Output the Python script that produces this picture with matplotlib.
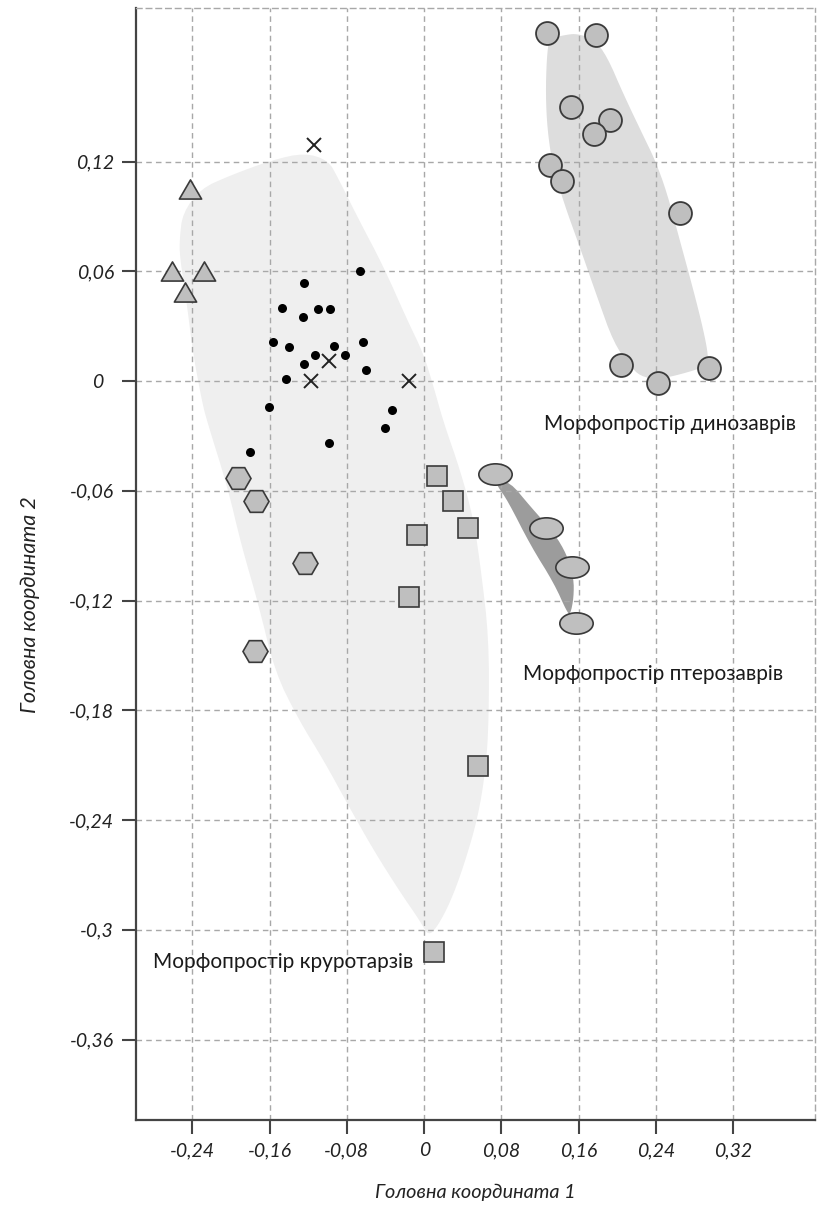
import numpy as np
import matplotlib
matplotlib.use("Agg")
import matplotlib.pyplot as plt
from matplotlib.path import Path

plt.rcParams['font.family'] = ['Lato', 'DejaVu Sans']

# ---------------- data ----------------
x_ticks = [-0.24, -0.16, -0.08, 0.0, 0.08, 0.16, 0.24, 0.32]
x_tick_labels = ["-0,24", "-0,16", "-0,08", "0", "0,08", "0,16", "0,24", "0,32"]
y_ticks = [0.12, 0.06, 0.0, -0.06, -0.12, -0.18, -0.24, -0.30, -0.36]
y_tick_labels = ["0,12", "0,06", "0  ", "-0,06", "-0,12", "-0,18", "-0,24", "-0,3", "-0,36"]

# small black dots
dots_x = [-0.0664, -0.1243, -0.1467, -0.1257, -0.110, -0.0974, -0.156, -0.140, -0.0929, -0.0631,
          -0.0814, -0.1134, -0.1243, -0.0604, -0.1427, -0.161, -0.0331, -0.040, -0.098, -0.1798]
dots_y = [0.060, 0.0537, 0.0398, 0.0349, 0.0396, 0.0396, 0.0212, 0.0188, 0.019, 0.0213,
          0.0144, 0.0144, 0.0095, 0.0058, 0.0014, -0.0143, -0.0156, -0.0255, -0.034, -0.039]
# crosses
cross_x = [-0.114, -0.098, -0.1175, -0.0154]
cross_y = [0.129, 0.011, 0.0, 0.0]
# triangles
tri_x = [-0.242, -0.261, -0.2276, -0.247]
tri_y = [0.105, 0.060, 0.060, 0.0486]
# hexagons
hex_x = [-0.1929, -0.1735, -0.1229, -0.1753]
hex_y = [-0.0532, -0.0653, -0.0992, -0.1475]
# squares
sq_x = [0.0134, 0.0298, 0.0456, -0.0075, -0.0154, 0.0561, 0.0105]
sq_y = [-0.052, -0.0657, -0.0803, -0.0843, -0.1179, -0.2107, -0.3123]
# pterosaurs (ellipses)
ptero_x = [0.0737, 0.126, 0.1533, 0.1569]
ptero_y = [-0.0507, -0.0803, -0.1018, -0.1321]
# dinosaurs (circles)
dino_x = [0.1268, 0.1783, 0.1525, 0.192, 0.1757, 0.1302, 0.1422, 0.265, 0.2038, 0.242, 0.2946]
dino_y = [0.1906, 0.1891, 0.1497, 0.1425, 0.1349, 0.1183, 0.1096, 0.0919, 0.0087, -0.0013, 0.0072]

# morphospace outlines
cruro_hull_x = [-0.1577, -0.1239, -0.0994, -0.0889, -0.0687, -0.0421, -0.0174, -0.001, 0.0095, 0.020,
                0.0377, 0.0513, 0.0586, 0.067, 0.067, 0.0638, 0.0555, 0.0408, 0.0272, 0.0136,
                0.0042, -0.0041, -0.0246, -0.0523, -0.079, -0.1035, -0.1301, -0.1546, -0.1714, -0.1894,
                -0.2032, -0.2244, -0.2297, -0.2393, -0.2456, -0.253, -0.253, -0.2499, -0.2317, -0.200]
cruro_hull_y = [0.1208, 0.1248, 0.1208, 0.1109, 0.0894, 0.0627, 0.0333, 0.0154, -0.0025, -0.0224,
                -0.0493, -0.0759, -0.1024, -0.1404, -0.1849, -0.2121, -0.239, -0.2654, -0.2848, -0.2984,
                -0.3034, -0.2953, -0.2796, -0.2565, -0.2315, -0.2078, -0.1849, -0.1588, -0.1221, -0.0893,
                -0.0584, -0.0224, -0.0117, 0.0154, 0.0425, 0.0683, 0.0782, 0.0918, 0.1051, 0.1126]
dino_hull_x = [0.1292, 0.148, 0.1583, 0.1754, 0.1892, 0.2064, 0.227, 0.2392, 0.2512, 0.265,
               0.2787, 0.289, 0.2942, 0.2925, 0.265, 0.241, 0.2237, 0.2134, 0.1962, 0.179,
               0.1618, 0.1446, 0.1327, 0.1275, 0.1258, 0.1268]
dino_hull_y = [0.1872, 0.1895, 0.1899, 0.1872, 0.1777, 0.1567, 0.1339, 0.1206, 0.1032, 0.0762,
               0.0497, 0.028, 0.0136, 0.0081, 0.0036, 0.0009, 0.0027, 0.0081, 0.0208, 0.0461,
               0.0722, 0.0974, 0.1186, 0.1377, 0.1567, 0.1758]
ptero_hull_x = [0.0761, 0.088, 0.1103, 0.1343, 0.1481, 0.1548, 0.1548, 0.1514, 0.1481, 0.1343,
                0.1103, 0.0864, 0.0761]
ptero_hull_y = [-0.0564, -0.0546, -0.0688, -0.0829, -0.0953, -0.1077, -0.1183, -0.1275, -0.1266, -0.1104,
                -0.09, -0.0653, -0.0576]

labels_text = ["Морфопростір динозаврів", "Морфопростір птерозаврів", "Морфопростір круротарзів"]
labels_x = [0.124, 0.1018, -0.281]
labels_y = [-0.0233, -0.160, -0.3174]

# ---------------- figure ----------------
fig = plt.figure(figsize=(8.2, 12.05), dpi=100)
ax = fig.add_axes([136 / 820, 1 - 1120 / 1205, (815 - 136) / 820, (1120 - 8) / 1205])
ax.set_xlim(-0.2982, 0.4045)
ax.set_ylim(-0.404, 0.204)


def chaikin(xs, ys, n=2):
    pts = np.column_stack([xs, ys])
    for _ in range(n):
        nxt = np.roll(pts, -1, axis=0)
        q = 0.75 * pts + 0.25 * nxt
        r = 0.25 * pts + 0.75 * nxt
        pts = np.empty((2 * len(q), 2))
        pts[0::2] = q
        pts[1::2] = r
    return pts[:, 0], pts[:, 1]


hx, hy = chaikin(cruro_hull_x, cruro_hull_y)
ax.fill(hx, hy, color='#efefef', lw=0, zorder=0.3)
hx, hy = chaikin(dino_hull_x, dino_hull_y)
ax.fill(hx, hy, color='#dddddd', lw=0, zorder=0.3)
hx, hy = chaikin(ptero_hull_x, ptero_hull_y)
ax.fill(hx, hy, color='#9c9c9c', lw=0, zorder=0.3)

# grid
grid_kw = dict(color='#a8a8a8', lw=1.0, ls=(0, (4, 3)))
ax.set_xticks(x_ticks)
ax.set_yticks(y_ticks)
ax.set_axisbelow('line')
ax.grid(True, **grid_kw)

# markers
edge = '#3a3a3a'
fillc = '#bfbfbf'
tri_path = Path([(0, 0.43), (-0.5, -0.43), (0.5, -0.43), (0, 0.43)],
                [Path.MOVETO, Path.LINETO, Path.LINETO, Path.CLOSEPOLY])
circ = Path.unit_circle()
ell_path = Path(circ.vertices * np.array([1.0, 0.64]), circ.codes)

ax.plot(dots_x, dots_y, 'o', ms=6.5, color='black', mew=0, zorder=3)
ax.plot(cross_x, cross_y, 'x', ms=10.5, color='#222222', mew=1.4, zorder=3)
ax.plot(tri_x, tri_y, ls='none', marker=tri_path, ms=16, mfc=fillc, mec=edge, mew=1.2, zorder=3)
ax.plot(hex_x, hex_y, 'H', ms=18, mfc=fillc, mec=edge, mew=1.2, zorder=3)
ax.plot(sq_x, sq_y, 's', ms=14.5, mfc=fillc, mec=edge, mew=1.2, zorder=3)
ax.plot(ptero_x, ptero_y, ls='none', marker=ell_path, ms=24, mfc=fillc, mec=edge, mew=1.2, zorder=3)
ax.plot(dino_x, dino_y, 'o', ms=16.5, mfc=fillc, mec=edge, mew=1.3, zorder=3)

for t, x, y in zip(labels_text, labels_x, labels_y):
    ax.text(x, y, t, fontsize=15, color='#1a1a1a', ha='left', va='center', zorder=4)

# spines & ticks
for s in ['left', 'bottom']:
    ax.spines[s].set_color('#444444')
    ax.spines[s].set_linewidth(1.6)
for s in ['top', 'right']:
    ax.spines[s].set_color('#a8a8a8')
    ax.spines[s].set_linewidth(1.0)
    ax.spines[s].set_linestyle((0, (4, 3)))

ax.set_xticklabels(x_tick_labels, fontstyle='italic', fontsize=14, color='#222222')
ax.set_yticklabels(y_tick_labels, fontstyle='italic', fontsize=14, color='#222222')
ax.tick_params(direction='out', length=10, width=1.5, color='#444444', pad=6)

fig.text(475 / 820, 1 - 1192 / 1205, "Головна координата 1", fontstyle='italic', fontsize=14.3,
         ha='center', va='center', color='#222222')
fig.text(30 / 820, 1 - 605 / 1205, "Головна координата 2", fontstyle='italic', fontsize=15.5,
         ha='center', va='center', rotation=90, color='#222222')

fig.savefig('out.png', dpi=100)
